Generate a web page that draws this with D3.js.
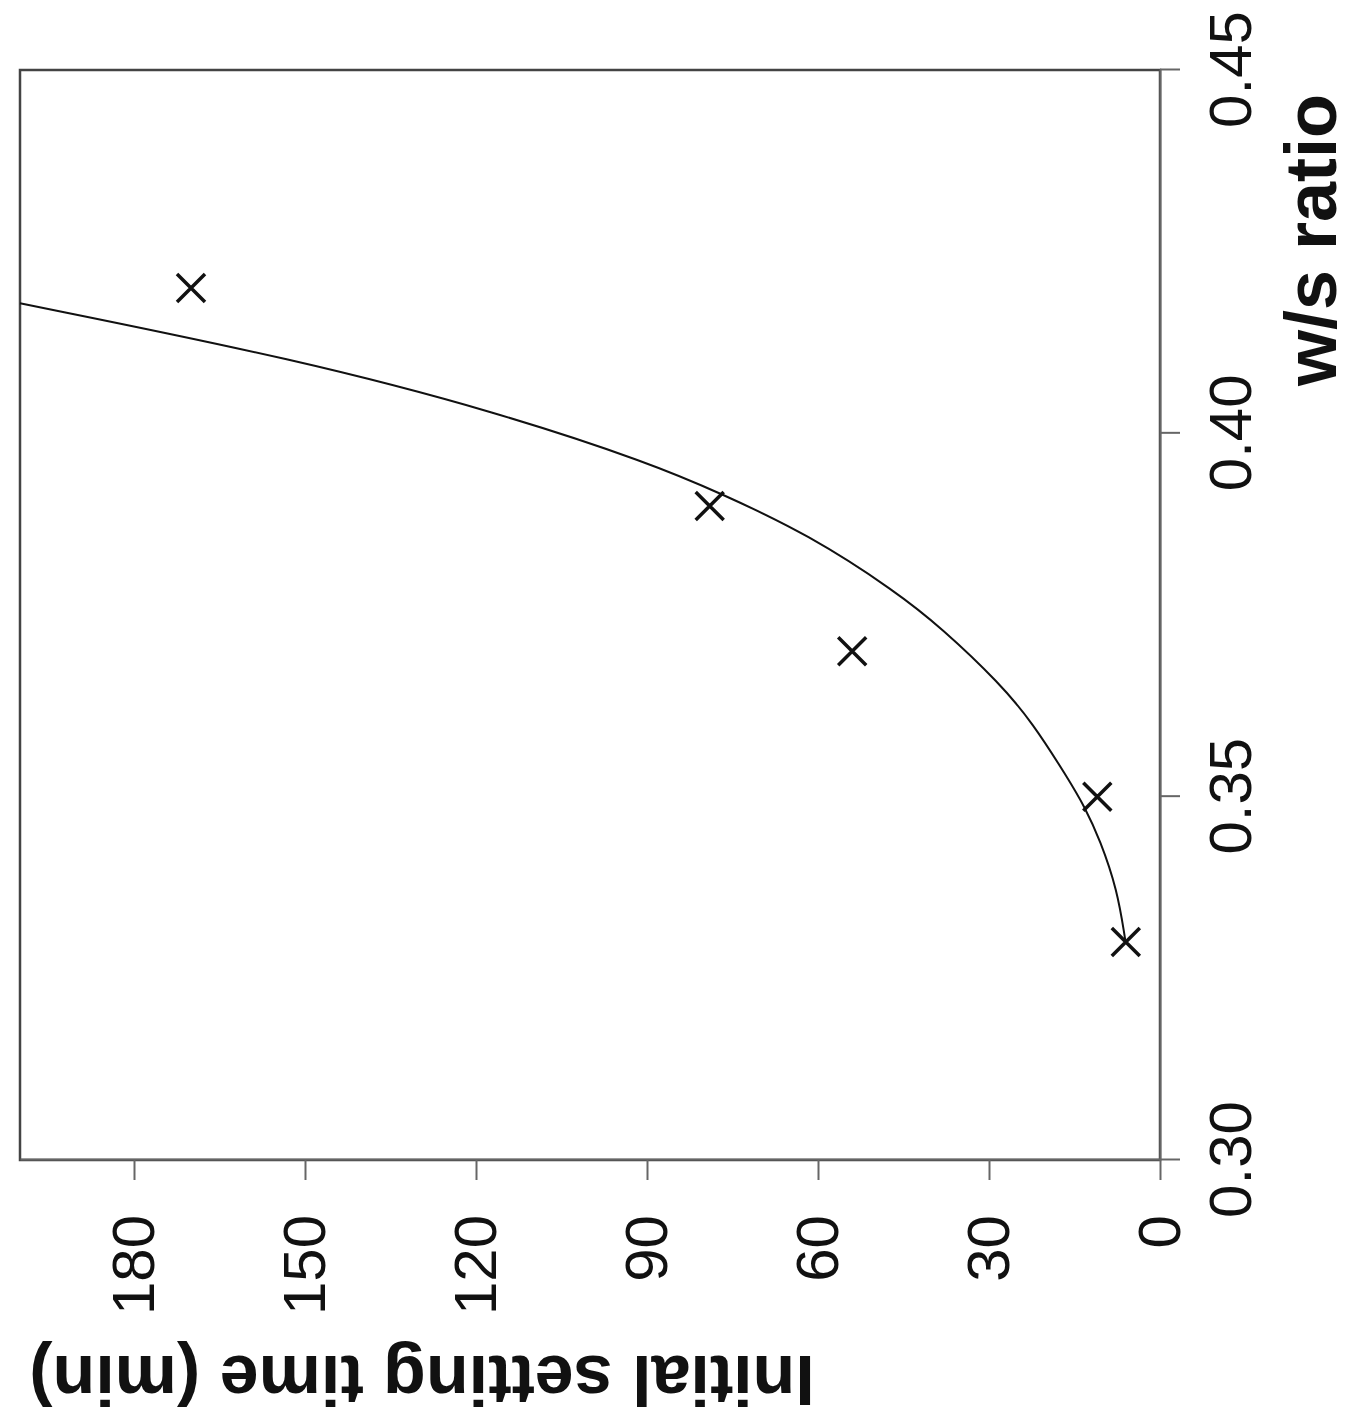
<!DOCTYPE html>
<html>
<head>
<meta charset="utf-8">
<script src="https://cdn.jsdelivr.net/npm/d3@7"></script>
<style>
  body { margin: 0; background: #fff; }
  svg { display: block; font-family: "Liberation Sans", Arial, sans-serif; }
</style>
</head>
<body>
<svg id="chart" width="1351" height="1422"></svg>
<script>
// measured points (w/s ratio, initial setting time in min)
var wsRatio = [0.33, 0.35, 0.37, 0.39, 0.42];
var setTime = [6, 11, 54, 79, 170];

// fitted curve
var curveWs = [0.3303, 0.3372, 0.3440, 0.3486, 0.3527, 0.3601, 0.3656, 0.3732, 0.3782,
    0.3860, 0.3918, 0.3959, 0.4028, 0.4101, 0.4179];
var curveTime = [6.1, 7.5, 10.5, 13.2, 16.3, 22.3, 28.1, 38.3, 46.3,
    61.5, 77.2, 89.5, 115.8, 150.9, 200];

var wsTicks = [0.30, 0.35, 0.40, 0.45];
var timeTicks = [0, 30, 60, 90, 120, 150, 180];

var svg = d3.select("#chart");

// the whole chart is drawn upright, then turned a quarter turn to the left
var g = svg.append("g")
    .attr("transform", "translate(0,1160) rotate(-90)");

var x = d3.scaleLinear().domain([0.30, 0.45]).range([0, 1090]);
var y = d3.scaleLinear().domain([0, 200]).range([1160, 20]);

// frame
g.append("rect")
    .attr("x", x(0.30))
    .attr("y", y(200))
    .attr("width", x(0.45) - x(0.30))
    .attr("height", y(0) - y(200))
    .attr("fill", "none")
    .attr("stroke", "#444")
    .attr("stroke-width", 2.5);

let xAxis = g.append("g")
    .attr("transform", `translate(0,${y(0)})`)
    .call(d3.axisBottom(x)
        .tickValues(wsTicks)
        .tickFormat(d3.format(".2f"))
        .tickSize(20)
        .tickSizeOuter(0)
        .tickPadding(28));

let yAxis = g.append("g")
    .attr("transform", `translate(${x(0.30)},0)`)
    .call(d3.axisLeft(y)
        .tickValues(timeTicks)
        .tickSize(20)
        .tickSizeOuter(0)
        .tickPadding(35));

[xAxis, yAxis].forEach(a => {
    a.selectAll("path.domain").attr("stroke", "#666").attr("stroke-width", 2);
    a.selectAll(".tick line").attr("stroke", "#666").attr("stroke-width", 2);
    a.selectAll(".tick text")
        .attr("fill", "#111")
        .style("font-size", "60px")
        .style("font-family", "'Liberation Sans', Arial, sans-serif");
});

// axis titles
g.append("text")
    .attr("x", 920)
    .attr("y", 1336)
    .attr("text-anchor", "middle")
    .attr("font-size", 72)
    .attr("font-weight", "bold")
    .attr("fill", "#111")
    .text("w/s ratio");

g.append("text")
    .attr("transform", "translate(-196,422) rotate(-90)")
    .attr("text-anchor", "middle")
    .attr("font-size", 70)
    .attr("font-weight", "bold")
    .attr("fill", "#111")
    .text("Initial setting time (min)");

// fitted curve
var curvePts = curveWs.map((w, i) => [w, curveTime[i]]);
var line = d3.line()
    .x(d => x(d[0]))
    .y(d => y(d[1]))
    .curve(d3.curveBasis);

g.append("path")
    .datum(curvePts)
    .attr("d", line)
    .attr("fill", "none")
    .attr("stroke", "#111")
    .attr("stroke-width", 2);

// x markers
var pts = wsRatio.map((w, i) => ({w: w, t: setTime[i]}));
var h = 14;
g.selectAll("path.mark")
    .data(pts)
    .enter().append("path")
    .attr("class", "mark")
    .attr("d", d => {
        let cx = x(d.w), cy = y(d.t);
        return `M${cx - h},${cy - h}L${cx + h},${cy + h}M${cx - h},${cy + h}L${cx + h},${cy - h}`;
    })
    .attr("fill", "none")
    .attr("stroke", "#111")
    .attr("stroke-width", 3.5);
</script>
</body>
</html>
